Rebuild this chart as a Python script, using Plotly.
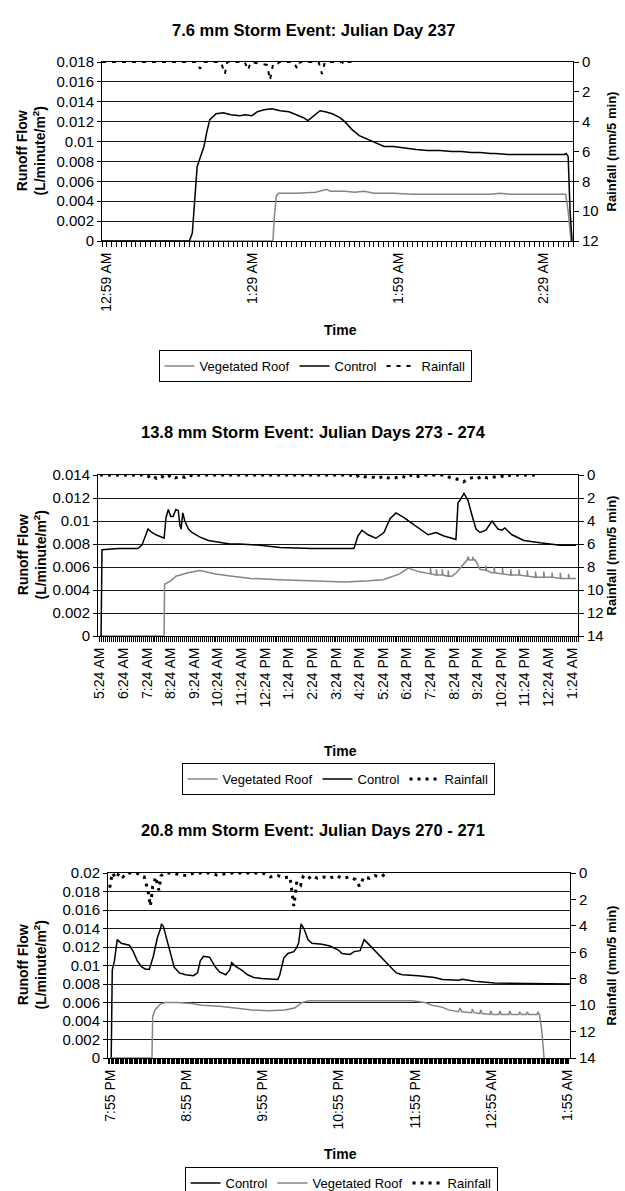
import plotly.graph_objects as go

W, H = 625, 1191
FONT = "Liberation Sans, Arial, sans-serif"

# ---------------- Panel 1: 7.6 mm storm, Julian day 237 (minutes from 12:58 AM)
p1_ticks = [1, 31, 61, 91]
p1_labels = ["12:59 AM", "1:29 AM", "1:59 AM", "2:29 AM"]
p1_control_t = [0, 18.0, 18.6, 19.1, 19.6, 20.3, 21.0, 21.6, 22.2, 23.5, 25, 26.5, 28.4, 29.5, 30.9, 32,
                33.4, 35, 36.7, 38.5, 40, 41.5, 42.4, 43.5, 44.9, 46, 47.4, 48.2, 49, 50, 51.5, 53, 54.8,
                56.5, 58.1, 60, 61.4, 63, 64.7, 67, 69.6, 72, 74, 76, 77.9, 80, 81, 83.6, 86, 88, 90, 93,
                95.2, 95.6, 96, 96.4, 96.8]
p1_control_y = [0, 0, 0.0008, 0.004, 0.0075, 0.0085, 0.0095, 0.011, 0.0122, 0.0128, 0.0129, 0.0127, 0.0126,
                0.0127, 0.0126, 0.013, 0.0132, 0.0133, 0.0131, 0.013, 0.0127, 0.0124, 0.0121, 0.0125, 0.0131,
                0.013, 0.0128, 0.0126, 0.0124, 0.012, 0.0112, 0.0106, 0.0102, 0.0098, 0.0095, 0.0095, 0.0094,
                0.0093, 0.0092, 0.0091, 0.0091, 0.009, 0.009, 0.0089, 0.0089, 0.0088, 0.0088, 0.0087, 0.0087,
                0.0087, 0.0087, 0.0087, 0.0087, 0.0088, 0.0085, 0.003, 0]
p1_veg_t = [0, 35.2, 35.5, 35.9, 36.3, 40, 44, 45.5, 46.3, 47, 50, 52, 54, 56, 60, 64, 70, 80, 82, 84, 90,
            95.5, 96, 96.6]
p1_veg_y = [0, 0, 0.0025, 0.0045, 0.0048, 0.0048, 0.0049, 0.0051, 0.0052, 0.005, 0.005, 0.0049, 0.005,
            0.0048, 0.0048, 0.0047, 0.0047, 0.0047, 0.0048, 0.0047, 0.0047, 0.0047, 0.003, 0]
p1_rain_t = [0, 19.5, 20.2, 20.9, 24.5, 25.3, 25.8, 29.4, 30.1, 30.6, 34.0, 34.6, 35.2, 36.0, 36.5, 39.5,
             40.2, 40.8, 44.6, 45.3, 45.9, 49.4, 50.0, 50.6, 52]
p1_rain_mm = [0, 0, 0.45, 0, 0, 0.8, 0, 0, 0.55, 0, 0.2, 1.2, 0.2, 0.25, 0, 0, 0.45, 0, 0, 0.8, 0, 0, 0.2,
              0, 0]

# ---------------- Panel 2: 13.8 mm storm, Julian days 273-274 (hours from 5:24 AM)
p2_ticks = list(range(21))
p2_labels = ["5:24 AM", "6:24 AM", "7:24 AM", "8:24 AM", "9:24 AM", "10:24 AM", "11:24 AM", "12:24 PM",
             "1:24 PM", "2:24 PM", "3:24 PM", "4:24 PM", "5:24 PM", "6:24 PM", "7:24 PM", "8:24 PM",
             "9:24 PM", "10:24 PM", "11:24 PM", "12:24 AM", "1:24 AM"]
p2_control_t = [0.0, 0.05, 0.09, 0.8, 1.61, 1.78, 2.04, 2.2, 2.38, 2.6, 2.72, 2.80, 2.9, 3.0, 3.1, 3.22,
                3.32, 3.39, 3.44, 3.51, 3.6, 3.75, 3.9, 4.24, 4.6, 4.92, 5.5, 5.93, 6.78, 7.63, 8.5, 8.98,
                10.0, 10.76, 10.93, 11.10, 11.36, 11.69, 12.03, 12.29, 12.54, 12.88, 13.22, 13.56, 13.90,
                14.24, 14.57, 14.91, 15.08, 15.17, 15.25, 15.42, 15.59, 15.76, 15.93, 16.10, 16.35, 16.61,
                16.86, 17.03, 17.15, 17.45, 17.96, 18.64, 19.49, 20.17]
p2_control_y = [0.0, 0.0, 0.0075, 0.0076, 0.0076, 0.0079, 0.0093, 0.009, 0.0088, 0.0086, 0.0085, 0.0103,
                0.011, 0.0104, 0.0104, 0.011, 0.0109, 0.0096, 0.0093, 0.0107, 0.01, 0.0093, 0.009, 0.0086,
                0.0083, 0.0082, 0.008, 0.008, 0.0079, 0.0077, 0.0076, 0.0076, 0.0076, 0.0076, 0.0087, 0.0092,
                0.0088, 0.0085, 0.009, 0.0102, 0.0107, 0.0103, 0.0098, 0.0093, 0.0088, 0.009, 0.0087, 0.0085,
                0.0084, 0.0116, 0.0118, 0.0124, 0.0118, 0.0105, 0.0093, 0.009, 0.0092, 0.01, 0.0093, 0.0092,
                0.0094, 0.0088, 0.0083, 0.0081, 0.0079, 0.0079]
p2_veg_t = [0.0, 2.72, 2.74, 3.0, 3.22, 3.5, 3.73, 4.24, 4.9, 5.6, 6.4, 7.6, 9.0, 10.4, 11.4, 12.0, 12.7,
            13.05, 13.5,
            13.9, 14.0, 14.0, 14.03, 14.25, 14.25, 14.28, 14.5, 14.5, 14.53, 14.75, 14.75, 14.78, 14.91,
            15.1, 15.3, 15.55, 15.6, 15.63, 15.8, 15.8, 15.83, 15.9, 16.1, 16.35, 16.35, 16.38, 16.6, 16.7,
            16.7, 16.73, 17.05, 17.05, 17.08, 17.4, 17.4, 17.43, 17.75, 17.75, 17.78, 18.1, 18.1, 18.13,
            18.45, 18.45, 18.48, 18.8, 18.8, 18.83, 19.15, 19.15, 19.18, 19.5, 19.5, 19.53, 19.85, 19.85,
            19.88, 20.17]
p2_veg_y = [0.0, 0.0, 0.0045, 0.0048, 0.0052, 0.0054, 0.0055, 0.0057, 0.0054, 0.0052, 0.005, 0.0049,
            0.0048, 0.0047, 0.0048, 0.0049, 0.0054, 0.0059, 0.0056,
            0.0054, 0.0054, 0.0059, 0.0054, 0.0053, 0.0058, 0.0053, 0.0053, 0.0058, 0.0053, 0.0052, 0.0057,
            0.0052, 0.0052, 0.0055, 0.006, 0.0066, 0.0069, 0.0066, 0.0066, 0.0069, 0.0066, 0.0066, 0.0058,
            0.0057, 0.0061, 0.0057, 0.0055, 0.0055, 0.006, 0.0055, 0.0054, 0.0059, 0.0054, 0.0053, 0.0058,
            0.0053, 0.0053, 0.0058, 0.0053, 0.0052, 0.0057, 0.0052, 0.0051, 0.0056, 0.0051, 0.0051, 0.0056,
            0.0051, 0.0051, 0.0055, 0.0051, 0.005, 0.0055, 0.005, 0.005, 0.0054, 0.005, 0.005]
p2_rain_t = [0, 1.8, 2.0, 2.2, 2.4, 2.6, 2.8, 3.0, 3.2, 3.4, 3.6, 3.8, 4.0, 4.2, 4.4, 10.6, 10.8, 11.0, 11.2,
             11.6, 11.8, 12.0, 12.2, 12.4, 12.6, 12.8, 13.0, 13.2, 13.4, 13.6, 14.6, 14.8, 15.0, 15.2, 15.4,
             15.6, 15.8, 16.0, 16.2, 16.4, 16.6, 16.8, 17.0, 17.2, 17.4, 17.6, 18.5]
p2_rain_mm = [0, 0, 0.2, 0, 0.3, 0.1, 0.3, 0, 0.25, 0.1, 0.2, 0, 0.15, 0, 0, 0, 0.2, 0, 0.15, 0.2, 0.3, 0.1,
              0.25, 0.3, 0.2, 0.1, 0.25, 0, 0.2, 0, 0, 0.2, 0.3, 0.4, 0.6, 0.35, 0.2, 0.3, 0.1, 0.25, 0.15,
              0.2, 0.1, 0.2, 0, 0, 0]

# ---------------- Panel 3: 20.8 mm storm, Julian days 270-271 (hours from 7:55 PM)
p3_ticks = [0, 1, 2, 3, 4, 5, 6]
p3_labels = ["7:55 PM", "8:55 PM", "9:55 PM", "10:55 PM", "11:55 PM", "12:55 AM", "1:55 AM"]
p3_control_t = [0.0, 0.016, 0.03, 0.058, 0.095, 0.147, 0.253, 0.305, 0.358, 0.41, 0.463, 0.516, 0.568,
                0.621, 0.663, 0.674, 0.7, 0.737, 0.779, 0.805, 0.842, 0.911, 0.99, 1.095, 1.147, 1.184, 1.226,
                1.305, 1.384, 1.437, 1.516, 1.568, 1.595, 1.647, 1.726, 1.805, 1.884, 1.989, 2.2, 2.226,
                2.279, 2.332, 2.41, 2.453, 2.474, 2.505, 2.542, 2.595, 2.647, 2.779, 2.884, 2.989, 3.042,
                3.147, 3.2, 3.279, 3.332, 3.368, 3.437, 3.516, 3.595, 3.674, 3.753, 3.832, 4.042, 4.253,
                4.358, 4.568, 4.621, 4.779, 4.884, 5.042, 6.03]
p3_control_y = [0.0, 0.0, 0.0095, 0.0105, 0.0128, 0.0124, 0.0122, 0.0115, 0.0105, 0.0099, 0.0096, 0.0096,
                0.011, 0.013, 0.014, 0.0145, 0.0142, 0.013, 0.0118, 0.011, 0.0098, 0.0092, 0.009, 0.0089,
                0.0092, 0.0105, 0.011, 0.0109, 0.0098, 0.0093, 0.009, 0.0095, 0.0103, 0.0099, 0.0095, 0.009,
                0.0087, 0.0086, 0.0085, 0.009, 0.0108, 0.0113, 0.0115, 0.012, 0.0125, 0.0145, 0.014, 0.0128,
                0.0124, 0.0123, 0.0121, 0.0117, 0.0113, 0.0112, 0.0115, 0.0116, 0.0128, 0.0125, 0.0119,
                0.0112, 0.0105, 0.0098, 0.0092, 0.009, 0.0089, 0.0087, 0.0085, 0.0084, 0.0085, 0.0083,
                0.0082, 0.0081, 0.008]
p3_veg_t = [0.0, 0.55, 0.56, 0.59, 0.655, 0.72, 0.88, 1.07, 1.2, 1.43, 1.64, 1.86, 2.08, 2.29, 2.42, 2.52,
            2.61, 3.7, 3.96, 4.13, 4.22, 4.35, 4.44, 4.57, 4.59, 4.61, 4.74, 4.75, 4.77, 4.85, 4.86, 4.88,
            4.98, 4.99, 5.01, 5.1, 5.11, 5.13, 5.23, 5.24, 5.26, 5.36, 5.37, 5.39, 5.46, 5.47, 5.49, 5.6,
            5.61, 5.63, 5.66, 5.69]
p3_veg_y = [0.0, 0.0, 0.0045, 0.0052, 0.0058, 0.006, 0.006, 0.0059, 0.0057, 0.0056, 0.0054, 0.0052, 0.0051,
            0.0052, 0.0054, 0.006, 0.0062, 0.0062, 0.0062, 0.006, 0.0057, 0.0055, 0.0052, 0.005, 0.0054,
            0.005, 0.0049, 0.0053, 0.0049, 0.0048, 0.0052, 0.0048, 0.0047, 0.0051, 0.0047, 0.0047, 0.0051,
            0.0047, 0.0047, 0.0051, 0.0047, 0.0047, 0.005, 0.0047, 0.0047, 0.005, 0.0047, 0.0047, 0.005,
            0.0047, 0.003, 0.0]
p3_rain_t = [-0.02, 0.0, 0.03, 0.08, 0.12, 0.17, 0.22, 0.35, 0.4, 0.45, 0.5, 0.53, 0.56, 0.6, 0.64, 0.67,
             0.72, 0.8, 1.0, 1.1, 1.3, 1.4, 1.6, 1.7, 2.0, 2.1, 2.2, 2.28, 2.36, 2.41, 2.45, 2.5, 2.53, 2.58,
             2.65, 2.72, 2.8, 2.88, 2.96, 3.05, 3.15, 3.22, 3.27, 3.33, 3.4, 3.47, 3.55, 3.63]
p3_rain_mm = [1.0, 1.0, 0.0, 0.4, 0.0, 0.3, 0.0, 0.0, 0.2, 0.3, 1.4, 2.5, 1.0, 0.3, 1.3, 0.2, 0.0, 0.0, 0.2,
              0.0, 0.0, 0.15, 0.0, 0.0, 0.0, 0.3, 0.2, 0.35, 0.3, 2.5, 0.6, 0.9, 0.3, 0.5, 0.2, 0.4, 0.3, 0.4,
              0.2, 0.4, 0.3, 0.5, 1.0, 0.3, 0.4, 0.2, 0.3, 0.0]

titles = ["7.6 mm Storm Event: Julian Day 237",
          "13.8 mm Storm Event: Julian Days 273 - 274",
          "20.8 mm Storm Event: Julian Days 270 - 271"]

GRAY = "#858585"


def px(x):
    return x / W


def py(y):
    return 1 - y / H


# panel geometry in pixels: left, right, top, bottom
boxes = [(102, 573, 62, 241), (98, 578, 475, 636), (108, 570, 873, 1058)]
x_ranges = [[0, 97], [-0.08, 20.25], [-0.026, 6.03]]
minor_dt = [1, 1 / 12, 1 / 60]
y_left = [(0.018, ["0", "0.002", "0.004", "0.006", "0.008", "0.01", "0.012", "0.014", "0.016", "0.018"]),
          (0.014, ["0", "0.002", "0.004", "0.006", "0.008", "0.01", "0.012", "0.014"]),
          (0.02, ["0", "0.002", "0.004", "0.006", "0.008", "0.01", "0.012", "0.014", "0.016", "0.018", "0.02"])]
y_right_max = [12, 14, 14]
tick_sets = [(p1_ticks, p1_labels), (p2_ticks, p2_labels), (p3_ticks, p3_labels)]

fig = go.Figure()

series = [
    [("Vegetated Roof", p1_veg_t, p1_veg_y, "veg"), ("Control", p1_control_t, p1_control_y, "ctl"),
     ("Rainfall", p1_rain_t, p1_rain_mm, "rain")],
    [("Vegetated Roof", p2_veg_t, p2_veg_y, "veg"), ("Control", p2_control_t, p2_control_y, "ctl"),
     ("Rainfall", p2_rain_t, p2_rain_mm, "rain")],
    [("Control", p3_control_t, p3_control_y, "ctl"), ("Vegetated Roof", p3_veg_t, p3_veg_y, "veg"),
     ("Rainfall", p3_rain_t, p3_rain_mm, "rain")],
]
rain_style = [dict(width=2, dash="4px,6px"), dict(width=3, dash="3px,5px"), dict(width=3, dash="3px,5px")]

layout = dict(width=W, height=H, margin=dict(l=0, r=0, t=0, b=0, autoexpand=False), paper_bgcolor="white",
              plot_bgcolor="white", font=dict(family=FONT, color="black", size=14), annotations=[])

legend_pos = [(315, 366), (338, 779), (341, 1167)]
legend_anchor = ["middle", "middle", "top"]
time_pos = [330, 751, 1154]
title_pos = [30, 432, 830]

for i in range(3):
    L, R, T, B = boxes[i]
    xn = "x" if i == 0 else f"x{i + 1}"
    yl = f"y{2 * i + 1}" if i > 0 else "y"
    yr = f"y{2 * i + 2}"
    xkey = "xaxis" if i == 0 else f"xaxis{i + 1}"
    ylkey = "yaxis" if i == 0 else f"yaxis{2 * i + 1}"
    yrkey = f"yaxis{2 * i + 2}"
    legkey = "legend" if i == 0 else f"legend{i + 1}"
    tv, tt = tick_sets[i]
    layout[xkey] = dict(domain=[px(L), px(R)], anchor=yl, range=x_ranges[i], tickvals=tv, ticktext=tt,
                        tickangle=-90, ticks="outside", ticklen=5, tickcolor="black", showgrid=False,
                        zeroline=False, showline=True, linecolor="black", linewidth=1, mirror=True,
                        tickfont=dict(size=14),
                        minor=dict(dtick=minor_dt[i], tick0=0, ticks="outside", ticklen=5,
                                   tickcolor="black", showgrid=False))
    ymax, ylabels = y_left[i]
    yvals = [round(k * 0.002, 3) for k in range(len(ylabels))]
    layout[ylkey] = dict(domain=[py(B), py(T)], anchor=xn, range=[0, ymax], tickvals=yvals, ticktext=ylabels,
                         showgrid=True, gridcolor="#1a1a1a", gridwidth=1, zeroline=False, showline=True,
                         linecolor="black", linewidth=1, ticks="outside", ticklen=4, tickcolor="black",
                         tickfont=dict(size=15))
    rmax = y_right_max[i]
    layout[yrkey] = dict(overlaying=yl, side="right", anchor=xn, range=[rmax, 0],
                         tickvals=list(range(0, rmax + 1, 2)), showgrid=False, zeroline=False, showline=True,
                         linecolor="black", linewidth=1, ticks="outside", ticklen=5, tickcolor="black",
                         tickfont=dict(size=15))
    lx, ly = legend_pos[i]
    layout[legkey] = dict(orientation="h", x=px(lx), y=py(ly), xanchor="center", yanchor=legend_anchor[i],
                          bordercolor="black", borderwidth=1, bgcolor="white", font=dict(size=13),
                          itemwidth=30, tracegroupgap=0, traceorder="normal")
    for name, t, v, kind in series[i]:
        if kind == "rain":
            line = dict(color="black", **rain_style[i])
            ya = yr
        elif kind == "ctl":
            line = dict(color="black", width=1.5)
            ya = yl
        else:
            line = dict(color=GRAY, width=1.5)
            ya = yl
        fig.add_trace(go.Scatter(x=t, y=v, mode="lines", name=name, line=line, xaxis=xn, yaxis=ya,
                                 legend=legkey, showlegend=True))
    cy = (T + B) / 2
    ann = layout["annotations"]
    ann.append(dict(text=f"<b>{titles[i]}</b>", x=px(313), y=py(title_pos[i]), xref="paper", yref="paper",
                    showarrow=False, font=dict(size=16.5), xanchor="center", yanchor="middle"))
    ann.append(dict(text="<b>Time</b>", x=px(340), y=py(time_pos[i]), xref="paper", yref="paper",
                    showarrow=False, font=dict(size=14), xanchor="center", yanchor="middle"))
    ann.append(dict(text="<b>Runoff Flow</b><br><b>(L/minute/m<sup>2</sup>)</b>", x=px(31), y=py(cy),
                    xref="paper", yref="paper", showarrow=False, textangle=-90, font=dict(size=14),
                    xanchor="center", yanchor="middle"))
    ann.append(dict(text="<b>Rainfall (mm/5 min)</b>", x=px(611), y=py(cy), xref="paper", yref="paper",
                    showarrow=False, textangle=-90, font=dict(size=13), xanchor="center", yanchor="middle"))

fig.update_layout(**layout)
fig.write_html("out.html", config={"displayModeBar": False},
               post_script="document.body.style.margin='0';document.body.style.padding='0';"
                           "document.body.style.overflow='hidden';")
